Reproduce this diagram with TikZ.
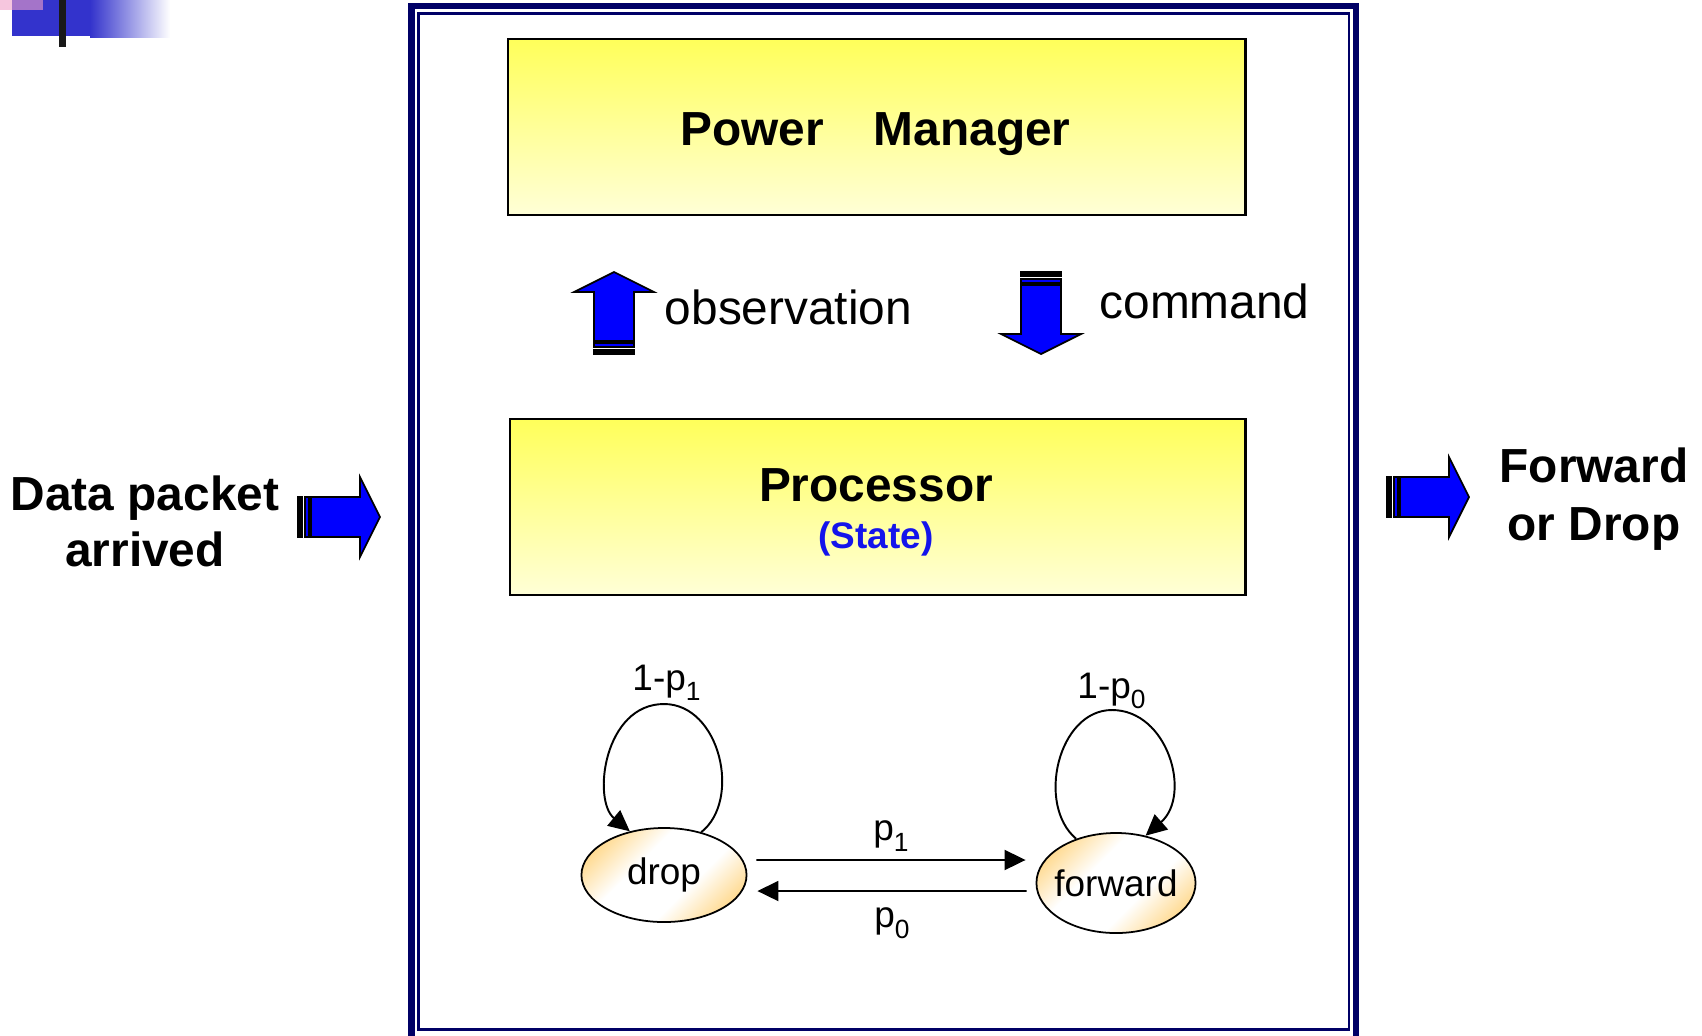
\documentclass[tikz,border=0pt]{standalone}
\usepackage{fontspec}
\setmainfont{Liberation Sans}
\usetikzlibrary{shapes,arrows.meta}

\definecolor{framenavy}{RGB}{0,0,102}
\definecolor{pmyellow}{RGB}{255,255,90}
\definecolor{paleyellow}{RGB}{255,255,215}
\definecolor{statepeach}{RGB}{255,218,145}
\definecolor{arrowblue}{RGB}{0,0,255}
\definecolor{stateblue}{RGB}{20,20,235}
\definecolor{logoblue}{RGB}{51,51,204}
\definecolor{logopink}{RGB}{240,160,200}

\pgfdeclarehorizontalshading{peachband}{100bp}{color(0bp)=(statepeach); color(24bp)=(statepeach);
  color(40bp)=(white); color(60bp)=(white); color(76bp)=(statepeach); color(100bp)=(statepeach)}

\newcommand{\lowidx}[1]{\raisebox{-0.55ex}{\fontsize{7.5}{8}\selectfont #1}}

\tikzset{
  pics/blockarrow/.style={code={
    \filldraw[fill=arrowblue,draw=black,line width=0.5pt,line join=miter]
      (13,-20) -- (62,-20) -- (62,-40) -- (82,0) -- (62,40) -- (62,20) -- (13,20) -- cycle;
    \filldraw[fill=black,draw=black,line width=0.3pt] (0,-20) rectangle (4,20);
    \filldraw[fill=arrowblue,draw=black,line width=0.3pt] (7,-20) rectangle (11,20);
  }}
}

\begin{document}
\begin{tikzpicture}[x=0.01cm,y=-0.01cm,
    yellowbox/.style={draw=black,semithick,rectangle,top color=pmyellow,bottom color=paleyellow,inner sep=0pt},
    state/.style={draw=black,line width=0.5pt,ellipse,shading=peachband,shading angle=-45,
      inner xsep=-0.3cm,inner ysep=0pt,font=\fontsize{10.5}{12}\selectfont},
    bigtext/.style={font=\fontsize{13.6}{16}\selectfont,inner sep=0pt,anchor=base},
    boldtext/.style={bigtext,font=\fontsize{13.6}{16}\selectfont\bfseries},
    plabel/.style={font=\fontsize{10.5}{12}\selectfont,inner sep=0pt},
    trans/.style={-{Triangle[length=0.21cm,width=0.2cm]},line width=0.55pt}]
  \useasboundingbox (0,0) rectangle (1702,1035);

  % corner mark
  \fill[logoblue] (12,0) rectangle (90,36);
  \shade[left color=logoblue,right color=white] (90,0) rectangle (170,37);
  \fill[logopink,opacity=0.6] (0,0) rectangle (43,10);
  \fill[black!90] (59,0) rectangle (66,47);

  % frame
  \draw[framenavy,line width=1.85pt] (411.5,6) rectangle (1356,1045);
  \draw[framenavy,line width=0.75pt] (418.5,13.5) rectangle (1349,1029.5);

  \node[yellowbox,minimum width=7.37cm,minimum height=1.76cm,anchor=north west] (pm) at (507,38) {};
  \node[boldtext] (pmtext) at (875.5,145) {Power\hspace{0.5cm}Manager};

  \node[yellowbox,minimum width=7.35cm,minimum height=1.76cm,anchor=north west] (proc) at (509,418) {};
  \node[boldtext] (proctext) at (876,501) {Processor};
  \node[boldtext,font=\fontsize{10.5}{12}\selectfont\bfseries,text=stateblue] (statetext) at (876,548) {(State)};

  \pic[rotate=90] at (614,354) {blockarrow};
  \node[bigtext] (obs) at (788.5,324) {observation};
  \pic[rotate=-90] at (1041,272) {blockarrow};
  \node[bigtext] (cmd) at (1204.5,318) {command};

  \pic at (298,517) {blockarrow};
  \node[boldtext] (datatext) at (145,510) {Data packet};
  \node[boldtext] (arrtext) at (145,566) {arrived};
  \pic at (1387,497) {blockarrow};
  \node[boldtext] (fwdtext) at (1594,482) {Forward};
  \node[boldtext] (droptext) at (1594,540) {or Drop};

  % two-state chain
  \node[state,minimum width=1.65cm,minimum height=0.94cm] (drop) at (664,875) {drop};
  \node[state,minimum width=1.59cm,minimum height=1.0cm] (fwd) at (1116,883) {forward};

  \coordinate (droptop) at (664,704);
  \coordinate (fwdtop) at (1112,710);
  \draw[trans] (drop.49) .. controls (742,800) and (720,704) .. (droptop)
    .. controls (604,704) and (592,800) .. (drop.128);
  \draw[trans] (fwd.132) .. controls (1036,805) and (1058,710) .. (fwdtop)
    .. controls (1168,710) and (1192,795) .. (fwd.58);
  \node[plabel,anchor=base] (loop1) at (666.5,690) {1-p\lowidx{1}};
  \node[plabel,anchor=base] (loop0) at (1111.5,698) {1-p\lowidx{0}};

  \path[trans] ([xshift=0.09cm,yshift=0.15cm]drop.east) edge node[plabel,above=0.08cm] {p\lowidx{1}} ([xshift=-0.1cm,yshift=0.23cm]fwd.west);
  \path[trans] ([xshift=-0.09cm,yshift=-0.08cm]fwd.west) edge node[plabel,below=0.16cm] {p\lowidx{0}} ([xshift=0.1cm,yshift=-0.16cm]drop.east);
\end{tikzpicture}
\end{document}
